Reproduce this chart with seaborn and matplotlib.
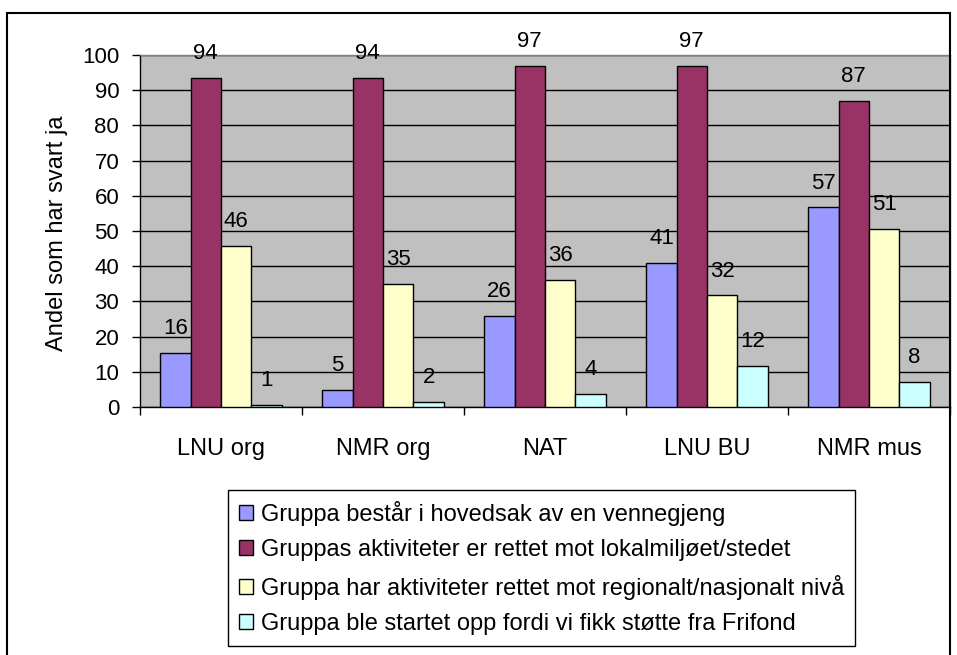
import pandas as pd
import matplotlib.pyplot as plt
import seaborn as sns
from matplotlib.patches import Rectangle

# ================= data =================
CATEGORIES = ['LNU org', 'NMR org', 'NAT', 'LNU BU', 'NMR mus']
SERIES = [
    'Gruppa består i hovedsak av en vennegjeng',
    'Gruppas aktiviteter er rettet mot lokalmiljøet/stedet',
    'Gruppa har aktiviteter rettet mot regionalt/nasjonalt nivå',
    'Gruppa ble startet opp fordi vi fikk støtte fra Frifond',
]
# bar heights
VENNEGJENG = [15.4, 4.9, 25.9, 40.8, 56.7]
LOKALMILJO = [93.6, 93.6, 97.0, 97.0, 86.9]
REGIONALT = [45.8, 35.0, 36.2, 31.7, 50.6]
FRIFOND = [0.5, 1.4, 3.8, 11.7, 7.2]
# printed data labels
LBL_VENNEGJENG = [16, 5, 26, 41, 57]
LBL_LOKALMILJO = [94, 94, 97, 97, 87]
LBL_REGIONALT = [46, 35, 36, 32, 51]
LBL_FRIFOND = [1, 2, 4, 12, 8]
COLORS = ['#9999FF', '#993366', '#FFFFCC', '#CCFFFF']
# =========================================

plt.rcParams['font.family'] = ['Liberation Sans', 'DejaVu Sans']

values = [VENNEGJENG, LOKALMILJO, REGIONALT, FRIFOND]
labels = [LBL_VENNEGJENG, LBL_LOKALMILJO, LBL_REGIONALT, LBL_FRIFOND]
df = pd.DataFrame({
    'kategori': CATEGORIES * len(SERIES),
    'serie': [s for s in SERIES for _ in CATEGORIES],
    'andel': [v for vals in values for v in vals],
})

fig = plt.figure(figsize=(9.57, 6.55), dpi=100)
ax = fig.add_axes([140 / 957, 1 - 407 / 655, 810 / 957, 352 / 655])
ax.set_facecolor('#C0C0C0')

sns.barplot(data=df, x='kategori', y='andel', hue='serie', order=CATEGORIES,
            hue_order=SERIES, palette=COLORS, saturation=1, width=0.75,
            edgecolor='black', linewidth=1, ax=ax, zorder=3)

for cont, lbl in zip(ax.containers, labels):
    ax.bar_label(cont, labels=[str(v) for v in lbl], padding=10, fontsize=16)

ax.set_ylim(0, 100)
ax.set_yticks(range(0, 101, 10))
ax.set_xlim(-0.5, len(CATEGORIES) - 0.5)
ax.set_xticks(range(len(CATEGORIES)))
ax.set_xticks([i - 0.5 for i in range(len(CATEGORIES) + 1)], minor=True)
ax.tick_params(axis='x', which='major', length=0, pad=22, labelsize=17)
ax.tick_params(axis='x', which='minor', length=6, width=1, direction='out')
ax.tick_params(axis='y', length=6, width=1, direction='out', labelsize=16, pad=9)
ax.yaxis.grid(True, color='black', linewidth=1, zorder=0)
ax.set_axisbelow(True)
ax.set_xlabel('')
ax.set_ylabel('Andel som har svart ja', fontsize=17)
ax.yaxis.set_label_coords(68 / 957, 1 - 233 / 655, transform=fig.transFigure)
for side in ['top', 'right']:
    ax.spines[side].set_color('#808080')
    ax.spines[side].set_linewidth(1)
for side in ['left', 'bottom']:
    ax.spines[side].set_color('black')
    ax.spines[side].set_linewidth(1)

handles, texts = ax.get_legend_handles_labels()
ax.legend_.remove()
leg = fig.legend(handles, texts, loc='upper left',
                 bbox_to_anchor=(228 / 957, 1 - 490 / 655),
                 fontsize=17, frameon=True, fancybox=False, framealpha=1,
                 edgecolor='black', handlelength=0.6, handleheight=0.6,
                 handletextpad=0.35, labelspacing=0.57, borderpad=0.45,
                 borderaxespad=0)
leg.get_frame().set_linewidth(1)

fig.patches.append(Rectangle((7 / 957, -0.1), 943 / 957, 1.1 - 13 / 655,
                             transform=fig.transFigure, fill=False,
                             edgecolor='black', linewidth=1.5))

plt.savefig('out.png', dpi=100)
